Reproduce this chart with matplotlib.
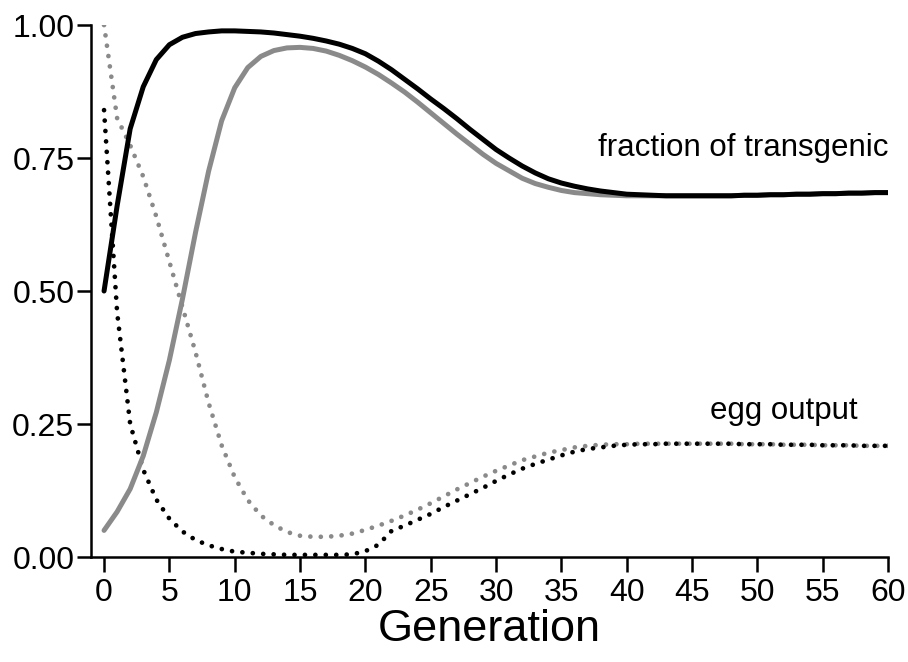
import numpy as np
import matplotlib.pyplot as plt

plt.rcParams['font.family'] = ['Liberation Sans', 'DejaVu Sans']

generation = np.arange(0, 61)

# fraction of transgenic individuals, two release scenarios
frac_a = [0.50, 0.66, 0.805, 0.884, 0.935, 0.963, 0.977, 0.984, 0.987, 0.989,
          0.989, 0.988, 0.987, 0.985, 0.982, 0.979, 0.975, 0.970, 0.964, 0.956,
          0.946, 0.932, 0.916, 0.898, 0.880, 0.861, 0.843, 0.824, 0.804, 0.785,
          0.766, 0.750, 0.735, 0.722, 0.711, 0.703, 0.697, 0.692, 0.688, 0.685,
          0.682, 0.681, 0.680, 0.679, 0.679, 0.679, 0.679, 0.679, 0.679, 0.680,
          0.680, 0.681, 0.681, 0.682, 0.682, 0.683, 0.683, 0.684, 0.684, 0.685,
          0.685]
frac_b = [0.05, 0.085, 0.128, 0.19, 0.272, 0.37, 0.485, 0.61, 0.725, 0.82,
          0.882, 0.92, 0.941, 0.952, 0.957, 0.958, 0.956, 0.951, 0.943, 0.933,
          0.921, 0.907, 0.891, 0.874, 0.855, 0.835, 0.815, 0.795, 0.776, 0.757,
          0.740, 0.726, 0.712, 0.702, 0.695, 0.689, 0.685, 0.683, 0.681, 0.680,
          0.679, 0.679, 0.679, 0.679, 0.679, 0.679, 0.679, 0.679, 0.679, 0.680,
          0.680, 0.681, 0.681, 0.682, 0.682, 0.683, 0.683, 0.684, 0.684, 0.685,
          0.685]

# relative egg output, same two scenarios
egg_a = [0.84, 0.46, 0.25, 0.164, 0.108, 0.072, 0.048, 0.032, 0.022, 0.015,
         0.010, 0.008, 0.006, 0.005, 0.004, 0.004, 0.004, 0.004, 0.004, 0.005,
         0.011, 0.023, 0.049, 0.059, 0.070, 0.081, 0.094, 0.106, 0.118, 0.130,
         0.143, 0.155, 0.166, 0.175, 0.183, 0.191, 0.198, 0.203, 0.206, 0.209,
         0.211, 0.212, 0.212, 0.213, 0.213, 0.213, 0.213, 0.213, 0.213, 0.212,
         0.212, 0.212, 0.211, 0.211, 0.211, 0.210, 0.210, 0.210, 0.209, 0.209,
         0.209]
egg_b = [1.00, 0.825, 0.774, 0.715, 0.64, 0.555, 0.47, 0.385, 0.29, 0.21,
         0.15, 0.107, 0.078, 0.060, 0.047, 0.040, 0.038, 0.038, 0.040, 0.044,
         0.051, 0.059, 0.068, 0.078, 0.089, 0.101, 0.114, 0.127, 0.139, 0.151,
         0.162, 0.172, 0.182, 0.189, 0.196, 0.201, 0.206, 0.209, 0.211, 0.212,
         0.212, 0.213, 0.213, 0.213, 0.213, 0.213, 0.213, 0.213, 0.213, 0.212,
         0.212, 0.212, 0.211, 0.211, 0.211, 0.210, 0.210, 0.210, 0.209, 0.209,
         0.209]

GREY = '#8a8a8a'

fig = plt.figure(figsize=(9.08, 6.62), dpi=100)
ax = fig.add_axes([0.1002, 0.1586, 0.8778, 0.8036])

dot = (0, (0.01, 2.2))
ax.plot(generation, egg_b, color=GREY, lw=3.4, linestyle=dot,
        dash_capstyle='round')
ax.plot(generation, egg_a, color='black', lw=3.4, linestyle=dot,
        dash_capstyle='round')
ax.plot(generation, frac_b, color=GREY, lw=3.6, solid_capstyle='round')
ax.plot(generation, frac_a, color='black', lw=3.6, solid_capstyle='round')

ax.text(60, 0.769, 'fraction of transgenic', fontsize=22.5,
        ha='right', va='center')
ax.text(57.7, 0.274, 'egg output', fontsize=22.5, ha='right', va='center')

ax.set_xlim(-1, 60)
ax.set_ylim(0, 1)
ax.set_xticks(np.arange(0, 61, 5))
ax.set_yticks([0, 0.25, 0.5, 0.75, 1.0])
ax.set_yticklabels(['0.00', '0.25', '0.50', '0.75', '1.00'])
ax.set_xlabel('Generation', fontsize=32.5, labelpad=1)

for side in ['top', 'right']:
    ax.spines[side].set_visible(False)
for side in ['left', 'bottom']:
    ax.spines[side].set_linewidth(1.8)
ax.tick_params(axis='y', length=10, width=1.8, labelsize=23, pad=2)
ax.tick_params(axis='x', length=11, width=1.8, labelsize=23, pad=4)

fig.savefig('out.png', dpi=100)
